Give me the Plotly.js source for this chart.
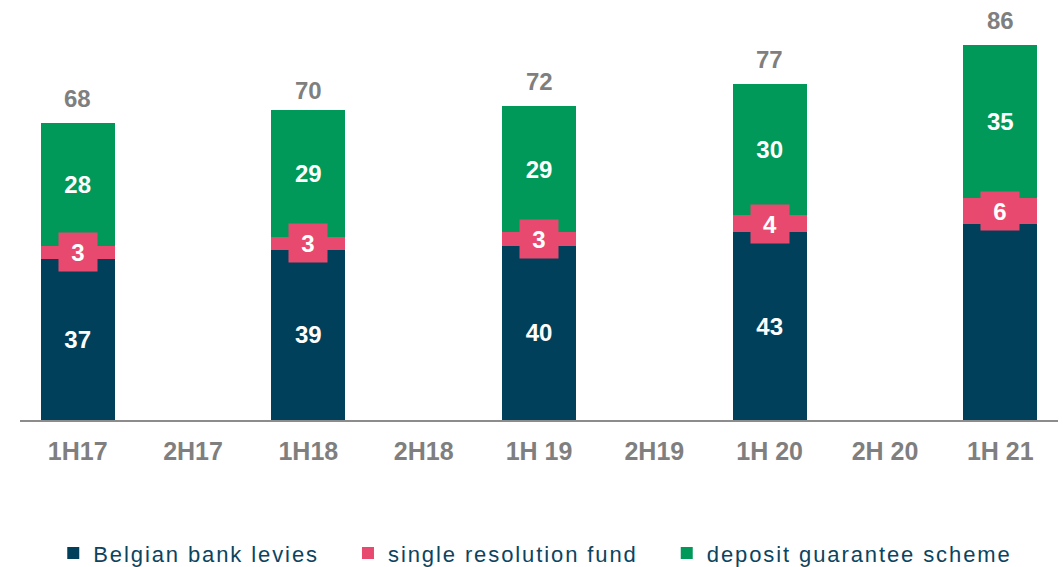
<!DOCTYPE html>
<html>
<head>
<meta charset="utf-8">
<script src="https://cdn.plot.ly/plotly-3.0.1.min.js"></script>
<style>html,body{margin:0;padding:0;background:#fff}#chart{width:1063px;height:567px}
.legendtext{letter-spacing:1.9px}</style>
</head>
<body>
<div id="chart"></div>
<script>
const categories = ["1H17","2H17","1H18","2H18","1H 19","2H19","1H 20","2H 20","1H 21"];
const seriesNames = ["Belgian bank levies", "single resolution fund", "deposit guarantee scheme"];
const belgianLevies = [37, null, 39, null, 40, null, 43, null, 45];
const belgianLabels = ["37", "", "39", "", "40", "", "43", "", ""];
const singleResolution = [3, null, 3, null, 3, null, 4, null, 6];
const depositGuarantee = [28, null, 29, null, 29, null, 30, null, 35];
const totals = [68, null, 70, null, 72, null, 77, null, 86];

const cBlue = '#01405A', cPink = '#E84A6F', cGreen = '#00995A';
const font = 'Liberation Sans, Arial, sans-serif';
const pad = '\u00a0\u00a0\u00a0';

const traces = [
  {type:'bar', name:seriesNames[0] + pad, x:categories, y:belgianLevies, marker:{color:cBlue},
   text:belgianLabels, textposition:'inside', insidetextanchor:'middle',
   textfont:{color:'#fff', size:24, family:font, weight:'bold'}, hoverinfo:'none'},
  {type:'bar', name:seriesNames[1] + pad, x:categories, y:singleResolution, marker:{color:cPink},
   hoverinfo:'none'},
  {type:'bar', name:seriesNames[2], x:categories, y:depositGuarantee, marker:{color:cGreen},
   text:depositGuarantee.map(v => v==null ? '' : String(v)), textposition:'inside', insidetextanchor:'middle',
   textfont:{color:'#fff', size:24, family:font, weight:'bold'}, hoverinfo:'none'}
];

const annotations = [];
categories.forEach((c, i) => {
  if (singleResolution[i] != null) {
    annotations.push({x:c, y:belgianLevies[i] + singleResolution[i]/2, xref:'x', yref:'y',
      text:'<b>'+singleResolution[i]+'</b>', showarrow:false, bgcolor:cPink,
      width:38, height:38, font:{color:'#fff', size:24, family:font}, borderpad:0});
  }
  if (totals[i] != null) {
    annotations.push({x:c, y:totals[i], xref:'x', yref:'y', yanchor:'bottom', yshift:9,
      text:'<b>'+totals[i]+'</b>', showarrow:false, font:{color:'#7F7F7F', size:24, family:font}});
  }
});

const layout = {
  width:1063, height:567,
  margin:{l:20, r:5, t:0, b:147, autoexpand:false},
  barmode:'stack', bargap:0.36,
  paper_bgcolor:'#fff', plot_bgcolor:'#fff',
  font:{family:font},
  xaxis:{type:'category', showline:true, linecolor:'#8c8c8c', linewidth:2, ticks:'', showgrid:false,
    tickfont:{color:'#7F7F7F', size:25, family:font, weight:'bold'}, ticklabelstandoff:8},
  yaxis:{range:[0, 96.3], visible:false, showgrid:false, zeroline:false},
  showlegend:true,
  legend:{orientation:'h', x:0.4964, xanchor:'center', y:-0.317, yanchor:'middle',
    font:{color:'#0B4460', size:22, family:font}, itemwidth:30, traceorder:'normal'},
  annotations:annotations
};

Plotly.newPlot('chart', traces, layout, {displayModeBar:false, staticPlot:true});
</script>
</body>
</html>
